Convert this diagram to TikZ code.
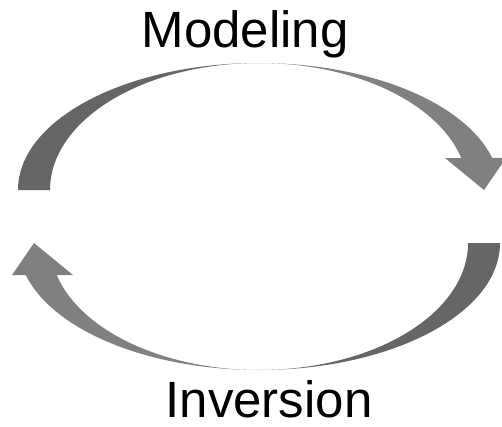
\documentclass[tikz,border=0pt]{standalone}
\usepackage{fontspec}
\setmainfont{Liberation Sans}
\usetikzlibrary{positioning}
\usetikzlibrary{calc}

\begin{document}
\begin{tikzpicture}[x=1pt, y=1pt,
    %Option for the two halves of each arrow
    inner sep=0pt, outer sep=0pt,%
    backside/.style={fill=shadegray, draw=none},
    frontside/.style={fill=arrowgray, draw=none},
    label/.style={font=\fontsize{51}{60}\selectfont, anchor=base},
]
    % Colors
    \definecolor{shadegray}{RGB}{102,102,102}
    \definecolor{arrowgray}{RGB}{128,128,128}

    \useasboundingbox (-259,-209.5) rectangle (243,216.5);

    % Both arrows: the lower one is the upper one turned by 180 degrees
    \foreach \r in {0,180} {
        \begin{scope}[rotate=\r, shift={(0,26.5)}]
            % darker back half, thick at the tail
            \filldraw[backside] (0,127)
                arc[start angle=90, end angle=180, x radius=241, y radius=127]
                -- (-209,0)
                arc[start angle=180, end angle=90, x radius=209, y radius=127]
                -- cycle;
            % front half with the head
            \filldraw[frontside] (0,127)
                arc[start angle=90, end angle=14.6, x radius=241, y radius=127]
                -- (247,32) -- (225,0) -- (186,32) -- (202.3,32)
                arc[start angle=14.6, end angle=90, x radius=209, y radius=127]
                -- cycle;
        \end{scope}
    }

    % Labels
    \node[label] (modeling)  at (-14,169.5)  {Modeling};
    \node[label] (inversion) at (10,-200.5)  {Inversion};
\end{tikzpicture}
\end{document}
